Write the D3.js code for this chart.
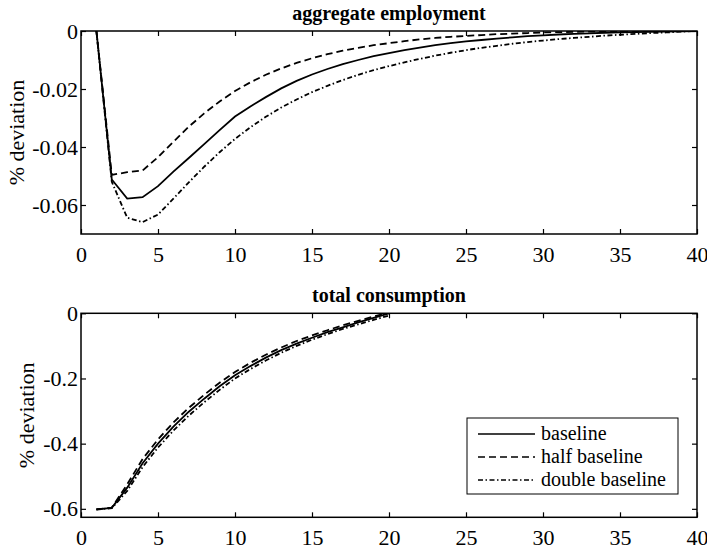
<!DOCTYPE html>
<meta charset="utf-8">
<html>
<style>
	body { margin: 0; background: #fff; }
	text { font-family: "Liberation Serif", "Times New Roman", serif; fill: #000; }
	.tick text { font-size: 22px; }
	.tick line { stroke: #000; stroke-width: 1.2px; }
	.series { fill: none; stroke: #000; stroke-width: 1.8px; }
</style>
<body>
	<script src="https://d3js.org/d3.v7.min.js"></script>
	<script type="text/javascript">
		// periods
		var periods = d3.range(1, 41);
		var periodsC = d3.range(1, 21);

		// aggregate employment, % deviation
		var empBaseline = [0, -0.0512, -0.0578, -0.0573, -0.0535, -0.0485, -0.0438, -0.0390, -0.0342, -0.0295,
			-0.0260, -0.0228, -0.0198, -0.0172, -0.0150, -0.0131, -0.0114, -0.0100, -0.0087, -0.0076,
			-0.0066, -0.0057, -0.0049, -0.0042, -0.0036, -0.0031, -0.0026, -0.0022, -0.0018, -0.0015,
			-0.0012, -0.0010, -0.0008, -0.0006, -0.0005, -0.0004, -0.0003, -0.0002, -0.0001, 0];
		var empHalf = [0, -0.0496, -0.0487, -0.0481, -0.0435, -0.0382, -0.0330, -0.0284, -0.0243, -0.0207,
			-0.0177, -0.0151, -0.0129, -0.0110, -0.0094, -0.0080, -0.0068, -0.0058, -0.0049, -0.0042,
			-0.0035, -0.0029, -0.0024, -0.0020, -0.0017, -0.0014, -0.0011, -0.0009, -0.0007, -0.0005,
			-0.0004, -0.0003, -0.0002, -0.0002, -0.0001, -0.0001, 0, 0, 0, 0];
		var empDouble = [0, -0.0520, -0.0644, -0.0659, -0.0633, -0.0578, -0.0522, -0.0468, -0.0418, -0.0372,
			-0.0332, -0.0296, -0.0264, -0.0236, -0.0211, -0.0189, -0.0169, -0.0151, -0.0135, -0.0121,
			-0.0108, -0.0096, -0.0085, -0.0075, -0.0066, -0.0058, -0.0051, -0.0044, -0.0038, -0.0033,
			-0.0028, -0.0024, -0.0020, -0.0016, -0.0013, -0.0010, -0.0007, -0.0005, -0.0002, 0];

		// total consumption, % deviation
		var conBaseline = [-0.602, -0.597, -0.535, -0.460, -0.400, -0.348, -0.302, -0.262, -0.224, -0.190,
			-0.162, -0.136, -0.113, -0.093, -0.075, -0.058, -0.043, -0.028, -0.014, 0.000];
		var conHalf = [-0.602, -0.596, -0.525, -0.447, -0.387, -0.335, -0.290, -0.250, -0.213, -0.180,
			-0.152, -0.127, -0.105, -0.085, -0.068, -0.052, -0.037, -0.023, -0.010, 0.002];
		var conDouble = [-0.602, -0.598, -0.545, -0.472, -0.412, -0.360, -0.314, -0.273, -0.235, -0.200,
			-0.171, -0.145, -0.121, -0.100, -0.081, -0.064, -0.048, -0.034, -0.020, -0.007];

		var seriesNames = ["baseline", "half baseline", "double baseline"];
		var dashes = [null, "7,4", "5,2.5,1.5,2.5"];
		var xTicks = [0, 5, 10, 15, 20, 25, 30, 35, 40];
		var empTicks = [0, -0.02, -0.04, -0.06];
		var conTicks = [0, -0.2, -0.4, -0.6];

		var width = 707, height = 549;
		var svg = d3.select("body").append("svg")
			.attr("width", width)
			.attr("height", height);

		var left = 81, right = 697;

		function panel(opts) {
			var x = d3.scaleLinear().domain([0, 40]).range([left, right]);
			var y = d3.scaleLinear().domain(opts.yDomain).range([opts.bottom, opts.top]);
			var g = svg.append("g");

			g.append("clipPath").attr("id", opts.id)
				.append("rect")
				.attr("x", left).attr("y", opts.top)
				.attr("width", right - left).attr("height", opts.bottom - opts.top);

			// axes with inward ticks on all four sides
			g.append("g")
				.attr("transform", "translate(0," + opts.bottom + ")")
				.call(d3.axisBottom(x).tickValues(xTicks).tickSizeInner(-5).tickSizeOuter(0).tickPadding(12))
				.call(function (a) { a.select(".domain").remove(); });
			g.append("g")
				.attr("transform", "translate(0," + opts.top + ")")
				.call(d3.axisTop(x).tickValues(xTicks).tickSizeInner(-5).tickSizeOuter(0).tickFormat(""))
				.call(function (a) { a.select(".domain").remove(); });
			g.append("g")
				.attr("transform", "translate(" + left + ",0)")
				.call(d3.axisLeft(y).tickValues(opts.ticks).tickSizeInner(-5).tickSizeOuter(0).tickPadding(3)
					.tickFormat(function (d) { return d === 0 ? "0" : String(d); }))
				.call(function (a) { a.select(".domain").remove(); });
			g.append("g")
				.attr("transform", "translate(" + right + ",0)")
				.call(d3.axisRight(y).tickValues(opts.ticks).tickSizeInner(-5).tickSizeOuter(0).tickFormat(""))
				.call(function (a) { a.select(".domain").remove(); });

			var line = d3.line()
				.x(function (d) { return x(d[0]); })
				.y(function (d) { return y(d[1]); });

			opts.series.forEach(function (vals, i) {
				g.append("path")
					.attr("class", "series")
					.attr("clip-path", "url(#" + opts.id + ")")
					.attr("stroke-dasharray", dashes[i])
					.attr("d", line(opts.xs.map(function (t, k) { return [t, vals[k]]; })));
			});

			g.append("rect")
				.attr("x", left).attr("y", opts.top)
				.attr("width", right - left).attr("height", opts.bottom - opts.top)
				.attr("fill", "none").attr("stroke", "#000").attr("stroke-width", 1.5);

			g.append("text")
				.attr("x", (left + right) / 2).attr("y", opts.top - 11)
				.attr("text-anchor", "middle")
				.style("font-size", "20px").style("font-weight", "bold")
				.text(opts.title);

			g.append("text")
				.attr("transform", "translate(" + opts.labelX + "," + ((opts.top + opts.bottom) / 2) + ") rotate(-90)")
				.attr("text-anchor", "middle")
				.attr("dy", "0.35em")
				.style("font-size", "22px")
				.text("% deviation");
			return g;
		}

		panel({
			id: "clipEmp", top: 31, bottom: 234, yDomain: [-0.07, 0], ticks: empTicks,
			xs: periods, series: [empBaseline, empHalf, empDouble],
			title: "aggregate employment", labelX: 16
		});

		panel({
			id: "clipCon", top: 313.3, bottom: 517.3, yDomain: [-0.626, 0], ticks: conTicks,
			xs: periodsC, series: [conBaseline, conHalf, conDouble],
			title: "total consumption", labelX: 26
		});

		// legend
		var legend = svg.append("g");
		legend.append("rect")
			.attr("x", 467).attr("y", 418)
			.attr("width", 211).attr("height", 76)
			.attr("fill", "#fff").attr("stroke", "#000").attr("stroke-width", 1);
		seriesNames.forEach(function (name, i) {
			var yy = 434 + i * 23;
			legend.append("line")
				.attr("x1", 478).attr("x2", 535)
				.attr("y1", yy).attr("y2", yy)
				.attr("stroke", "#000").attr("stroke-width", 1.6)
				.attr("stroke-dasharray", dashes[i]);
			legend.append("text")
				.attr("x", 541).attr("y", yy)
				.attr("dy", "0.32em")
				.style("font-size", "20px")
				.text(name);
		});
	</script>
</body>

</html>
